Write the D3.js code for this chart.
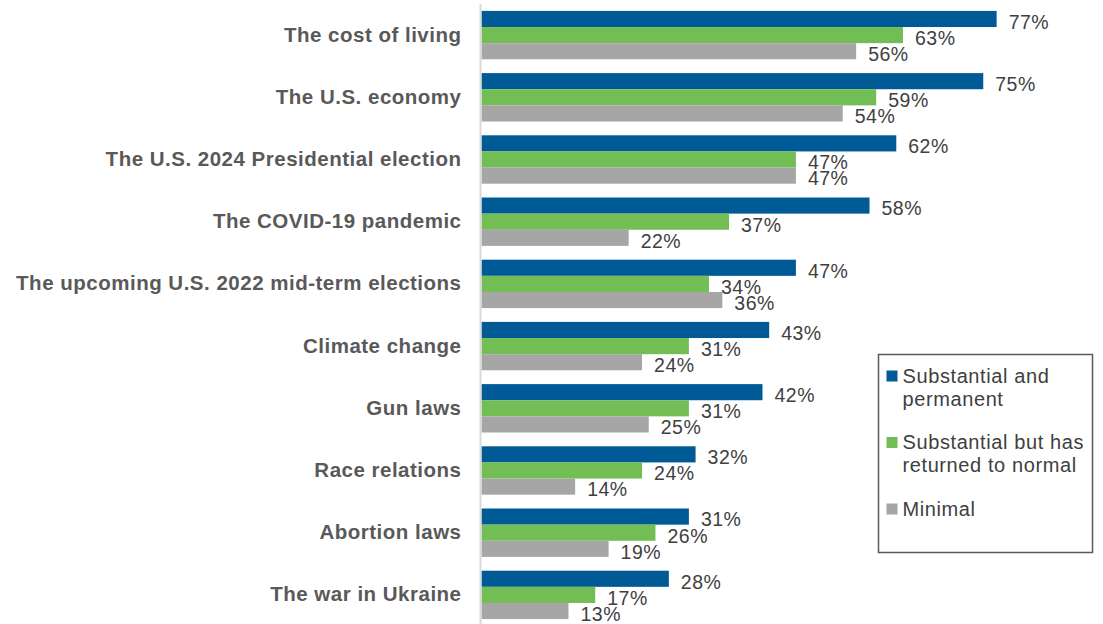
<!DOCTYPE html>
<html>
<head>
<meta charset="utf-8">
<script src="https://cdn.jsdelivr.net/npm/d3@7"></script>
<style>
  body { margin: 0; background: #fff; }
  svg { display: block; font-family: "Liberation Sans", Arial, sans-serif; }
</style>
</head>
<body>
<div id="chart"></div>
<script>
// Data
const categories = [
  "The cost of living",
  "The U.S. economy",
  "The U.S. 2024 Presidential election",
  "The COVID-19 pandemic",
  "The upcoming U.S. 2022 mid-term elections",
  "Climate change",
  "Gun laws",
  "Race relations",
  "Abortion laws",
  "The war in Ukraine"
];
const seriesNames = ["Substantial and permanent", "Substantial but has returned to normal", "Minimal"];
const permanent = [77, 75, 62, 58, 47, 43, 42, 32, 31, 28];
const returned = [63, 59, 47, 37, 34, 31, 31, 24, 26, 17];
const minimal = [56, 54, 47, 22, 36, 24, 25, 14, 19, 13];
const colors = ["#005A96", "#72BE55", "#A6A6A6"];

const W = 1103, H = 624;
const svg = d3.select("#chart").append("svg").attr("width", W).attr("height", H);

const rows = categories.map((c, i) => ({
  cat: c,
  vals: [permanent[i], returned[i], minimal[i]]
}));

// Scales
const x = d3.scaleLinear().domain([0, 100]).range([481.5, 481.5 + 669]);
const y = d3.scaleBand().domain(categories).range([4, 626]).paddingInner(0.222).paddingOuter(0.111);
const ySub = d3.scaleBand().domain(d3.range(3)).range([0, y.bandwidth()]);

// Bars
const groups = svg.selectAll("g.row")
  .data(rows)
  .enter()
  .append("g")
  .attr("class", "row")
  .attr("transform", (d) => `translate(0,${y(d.cat)})`);

groups.selectAll("rect")
  .data((d) => d.vals)
  .enter()
  .append("rect")
  .attr("x", x(0))
  .attr("y", (d, i) => ySub(i))
  .attr("width", (d) => x(d) - x(0))
  .attr("height", ySub.bandwidth())
  .attr("fill", (d, i) => colors[i]);

// Value labels
groups.selectAll("text.val")
  .data((d) => d.vals)
  .enter()
  .append("text")
  .attr("class", "val")
  .attr("x", (d) => x(d) + 12)
  .attr("y", (d, i) => ySub(i) + ySub.bandwidth() / 2 + 3)
  .attr("dy", "0.35em")
  .style("font-size", "19.5px")
  .style("letter-spacing", "0.5px")
  .style("fill", "#404040")
  .text((d) => d + "%");

// Axis line (no ticks)
svg.append("g")
  .attr("transform", `translate(${x(0) - 1},0)`)
  .call(d3.axisLeft(y).tickSize(0).tickPadding(19))
  .call((g) => g.select(".domain").attr("d", `M0,4V${H}`).attr("stroke", "#D9D9D9").attr("stroke-width", 2))
  .call((g) => g.selectAll(".tick text")
    .style("font-family", "'Liberation Sans', Arial, sans-serif")
    .style("font-size", "20.5px")
    .style("letter-spacing", "0.5px")
    .style("font-weight", "bold")
    .style("fill", "#595959"));

// Legend
const legend = svg.append("g").attr("transform", "translate(878.5,354.5)");
legend.append("rect")
  .attr("width", 214)
  .attr("height", 198)
  .attr("fill", "#fff")
  .attr("stroke", "#595959")
  .attr("stroke-width", 1.5);

const legendLines = [["Substantial and", "permanent"], ["Substantial but has", "returned to normal"], ["Minimal"]];
const legendItem = legend.selectAll("g.item")
  .data(seriesNames)
  .enter()
  .append("g")
  .attr("class", "item")
  .attr("transform", (d, i) => `translate(0,${16 + i * 66.5})`);

legendItem.append("rect")
  .attr("x", 8)
  .attr("y", 0)
  .attr("width", 11)
  .attr("height", 11)
  .attr("fill", (d, i) => colors[i]);

legendItem.append("text")
  .style("font-size", "20px")
  .style("letter-spacing", "0.6px")
  .style("fill", "#404040")
  .selectAll("tspan")
  .data((d, i) => legendLines[i])
  .enter()
  .append("tspan")
  .attr("x", 24)
  .attr("y", (d, j) => 12 + j * 23)
  .text((d) => d);
</script>
</body>
</html>
